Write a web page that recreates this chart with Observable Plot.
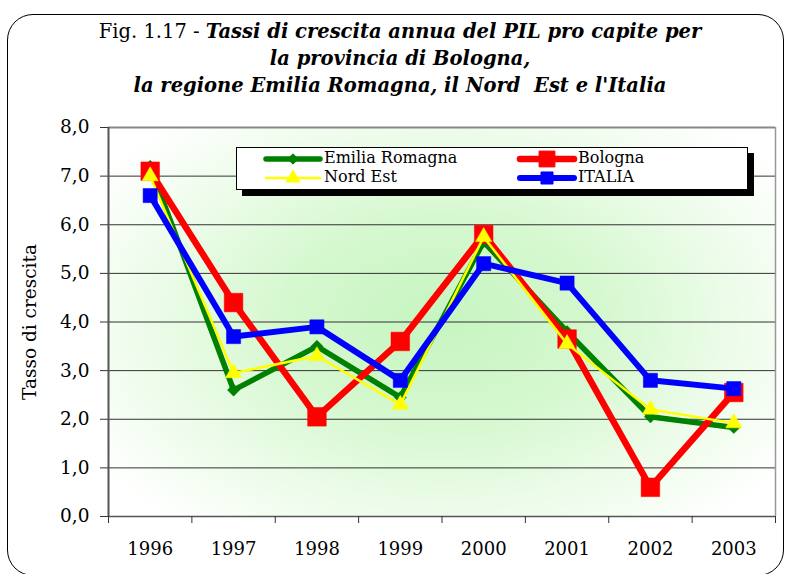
<!DOCTYPE html>
<html>
<head>
<meta charset="utf-8">
<script src="https://cdn.jsdelivr.net/npm/d3@7"></script>
<script src="https://cdn.jsdelivr.net/npm/@observablehq/plot@0.6"></script>
<style>
  html, body { margin: 0; padding: 0; background: #fff; }
  #wrap { position: relative; width: 786px; height: 574px; overflow: hidden; background: #fff; font-family: "DejaVu Serif", serif; }
  #frame { position: absolute; left: 7px; top: 14px; width: 775px; height: 560px; border: 1.5px solid #000; border-radius: 26px; }
  #title { position: absolute; left: 0; top: 18px; width: 800px; text-align: center; font-size: 19.5px; line-height: 27px; color: #000; }
  #title b { font-style: italic; }
  #bg { position: absolute; left: 108px; top: 127px; width: 667px; height: 389px;
        background: radial-gradient(ellipse 62% 68% at 50% 50%, #c6f5c0 0%, #d6f8d0 40%, #ecfce9 70%, #ffffff 100%); }
  #chart { position: absolute; left: 0; top: 0; }
  #legend { position: absolute; left: 236px; top: 147px; width: 510px; height: 41px; background: #fff; border: 1px solid #000; box-shadow: 6px 6px 0 #000; }
  .li { position: absolute; width: 240px; height: 20px; font-size: 16px; line-height: 20px; white-space: nowrap; }
  .li svg { position: absolute; left: 0; top: 0; overflow: visible; }
  .li span { position: absolute; left: 58px; top: -1px; }
</style>
</head>
<body>
<div id="wrap">
  <div id="frame"></div>
  <div id="bg"></div>
  <div id="chart"></div>
  <div id="title">Fig. 1.17 - <b>Tassi di crescita annua del PIL pro capite per<br>la provincia di Bologna,<br>la regione Emilia Romagna, il Nord&nbsp; Est e l'Italia</b></div>
  <div id="legend"></div>
</div>
<script>
const years = [1996, 1997, 1998, 1999, 2000, 2001, 2002, 2003];
const emiliaRomagna = [7.2, 2.6, 3.5, 2.45, 5.65, 3.8, 2.05, 1.83];
const bologna = [7.1, 4.4, 2.05, 3.6, 5.8, 3.65, 0.6, 2.55];
const nordEst = [7.0, 2.95, 3.3, 2.3, 5.75, 3.55, 2.2, 1.92];
const italia = [6.6, 3.7, 3.9, 2.8, 5.2, 4.8, 2.8, 2.63];
const seriesNames = ["Emilia Romagna", "Bologna", "Nord Est", "ITALIA"];
const yTicks = [0, 1, 2, 3, 4, 5, 6, 7, 8];
const yLabel = "Tasso di crescita";

const styles = {
  "Emilia Romagna": {color: "#008000", width: 5.5, symbol: "diamond2", r: 5.5},
  "Bologna": {color: "#ff0000", width: 6.5, symbol: "square", r: 10.5},
  "Nord Est": {color: "#ffff00", width: 2.5, symbol: "triangle", r: 6},
  "ITALIA": {color: "#0000ff", width: 6, symbol: "square", r: 8}
};
const valuesBySeries = [emiliaRomagna, bologna, nordEst, italia];
const data = seriesNames.flatMap((s, k) => years.map((y, i) => ({series: s, year: y, value: valuesBySeries[k][i]})));

const boundaries = d3.range(years.length + 1).map(i => years[0] - 0.5 + i);
const fmt = d => d.toFixed(1).replace(".", ",");

const marks = [
  Plot.ruleY(yTicks.filter(t => t > 0 && t < 8), {stroke: "#333", strokeWidth: 1}),
  Plot.ruleY([8], {stroke: "#888", strokeWidth: 2}),
  Plot.ruleY([0], {stroke: "#555", strokeWidth: 1.5}),
  Plot.ruleX([boundaries[0]], {stroke: "#555", strokeWidth: 2}),
  Plot.ruleX([boundaries[boundaries.length - 1]], {stroke: "#999", strokeWidth: 1.5}),
  Plot.axisY({ticks: yTicks, tickFormat: fmt, tickSize: 8, tickPadding: 11, fontSize: 18.5, label: null, stroke: "#333"}),
  Plot.text([yLabel], {frameAnchor: "left", dx: -78, dy: 0, rotate: -90, fontSize: 18.5, textAnchor: "middle"}),
  Plot.axisX({ticks: boundaries, tickFormat: () => "", tickSize: 7, label: null, stroke: "#333"}),
  Plot.axisX({ticks: years, tickFormat: d => String(d), tickSize: 0, tickPadding: 26, fontSize: 18, label: null})
];
for (const s of seriesNames) {
  const st = styles[s];
  const d = data.filter(e => e.series === s);
  marks.push(Plot.line(d, {x: "year", y: "value", stroke: st.color, strokeWidth: st.width, strokeLinejoin: "miter", strokeLinecap: "butt"}));
  marks.push(Plot.dot(d, {x: "year", y: "value", symbol: st.symbol, r: st.r, fill: st.color, stroke: st.color, strokeWidth: 0.5}));
}

const chart = Plot.plot({
  width: 786,
  height: 574,
  marginLeft: 108,
  marginRight: 11,
  marginTop: 127,
  marginBottom: 58,
  style: {background: "transparent", fontFamily: "DejaVu Serif, serif", color: "#000", overflow: "visible"},
  x: {type: "linear", domain: [boundaries[0], boundaries[boundaries.length - 1]]},
  y: {domain: [0, 8]},
  marks
});
document.getElementById("chart").appendChild(chart);

// Legend
const legend = d3.select("#legend");
const legendPos = [
  {name: "Emilia Romagna", left: 29, top: 1},
  {name: "Bologna", left: 283, top: 1},
  {name: "Nord Est", left: 29, top: 20},
  {name: "ITALIA", left: 283, top: 20}
];
const symbolTypes = {diamond2: d3.symbolDiamond2, square: d3.symbolSquare, triangle: d3.symbolTriangle};
for (const p of legendPos) {
  const st = styles[p.name];
  const item = legend.append("div").attr("class", "li").style("left", p.left + "px").style("top", p.top + "px");
  const svg = item.append("svg").attr("width", 56).attr("height", 20);
  svg.append("line").attr("x1", 0).attr("x2", 54).attr("y1", 10).attr("y2", 10)
    .attr("stroke", st.color).attr("stroke-width", st.width).attr("stroke-linecap", "round");
  const rr = st.r * 0.85;
  svg.append("path").attr("transform", "translate(27,10)")
    .attr("d", d3.symbol(symbolTypes[st.symbol], Math.PI * rr * rr)())
    .attr("fill", st.color).attr("stroke", st.color);
  item.append("span").text(p.name);
}
</script>
</body>
</html>
